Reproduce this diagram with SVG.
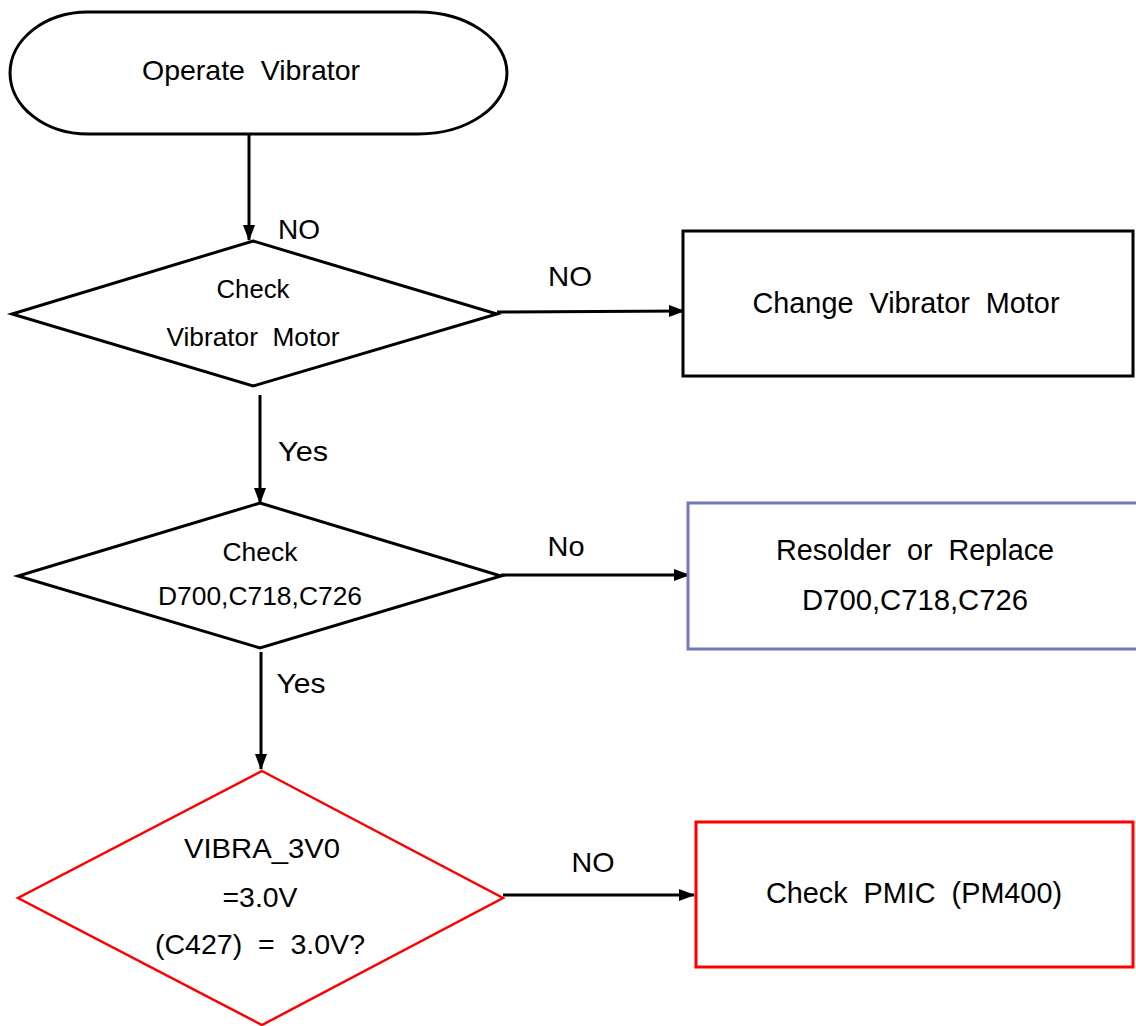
<svg xmlns="http://www.w3.org/2000/svg" width="1136" height="1026" viewBox="0 0 1136 1026">
<style>
text{font-family:"Liberation Sans",Arial,sans-serif;fill:#000;text-anchor:middle}
.blk{fill:#fff;stroke:#000;stroke-width:3}
.red{fill:#fff;stroke:#f00;stroke-width:3}
.reddia{fill:#fff;stroke:#f00;stroke-width:2.5}
.blue{fill:#fff;stroke:#7777bb;stroke-width:3}
.con{fill:none;stroke:#000;stroke-width:3}
.lbl{font-size:28px}
</style>
<defs>
<marker id="ah" markerUnits="userSpaceOnUse" markerWidth="16" markerHeight="14" refX="15" refY="7" orient="auto">
<path d="M0,1 L16,7 L0,13 Z" fill="#000"/>
</marker>
</defs>
<rect width="1136" height="1026" fill="#fff"/>
<g id="connectors">
<line class="con" x1="249" y1="134" x2="249" y2="240" marker-end="url(#ah)"/>
<line class="con" x1="497" y1="312" x2="684" y2="311" marker-end="url(#ah)"/>
<line class="con" x1="260" y1="395" x2="260" y2="503" marker-end="url(#ah)"/>
<line class="con" x1="501" y1="575" x2="689" y2="575" marker-end="url(#ah)"/>
<line class="con" x1="261" y1="652" x2="261" y2="769" marker-end="url(#ah)"/>
<line class="con" x1="503" y1="895" x2="694" y2="895" marker-end="url(#ah)"/>
<text class="lbl" x="299" y="239" textLength="42" lengthAdjust="spacingAndGlyphs">NO</text>
<text class="lbl" x="570" y="286" textLength="44" lengthAdjust="spacingAndGlyphs">NO</text>
<text class="lbl" x="303" y="461" textLength="50" lengthAdjust="spacingAndGlyphs">Yes</text>
<text class="lbl" x="566" y="556" textLength="37" lengthAdjust="spacingAndGlyphs">No</text>
<text class="lbl" x="301" y="693" textLength="49" lengthAdjust="spacingAndGlyphs">Yes</text>
<text class="lbl" x="593" y="872" textLength="43" lengthAdjust="spacingAndGlyphs">NO</text>
</g>
<g id="start">
<path class="blk" d="M88 12 H418 A89 61 0 0 1 418 134 H88 A78 61 0 0 1 88 12 Z"/>
<text x="251" y="80" font-size="28" xml:space="preserve" textLength="218" lengthAdjust="spacingAndGlyphs">Operate  Vibrator</text>
</g>
<g id="check-motor">
<polygon class="blk" points="253,241 497,314 253,386 12,314"/>
<text x="253" y="298" font-size="26" textLength="73" lengthAdjust="spacingAndGlyphs">Check</text>
<text x="253" y="346" font-size="26" xml:space="preserve" textLength="173" lengthAdjust="spacingAndGlyphs">Vibrator  Motor</text>
</g>
<g id="change-motor">
<rect class="blk" x="683" y="231" width="450" height="145"/>
<text x="906" y="313" font-size="29" xml:space="preserve" textLength="307" lengthAdjust="spacingAndGlyphs">Change  Vibrator  Motor</text>
</g>
<g id="check-parts">
<polygon class="blk" points="260,503 501,576 260,648 18,576"/>
<text x="260" y="561" font-size="26" textLength="75" lengthAdjust="spacingAndGlyphs">Check</text>
<text x="260" y="605" font-size="26" textLength="204" lengthAdjust="spacingAndGlyphs">D700,C718,C726</text>
</g>
<g id="resolder">
<rect class="blue" x="688" y="503" width="460" height="146"/>
<text x="915" y="560" font-size="29" xml:space="preserve" textLength="278" lengthAdjust="spacingAndGlyphs">Resolder  or  Replace</text>
<text x="915" y="610" font-size="29" textLength="226" lengthAdjust="spacingAndGlyphs">D700,C718,C726</text>
</g>
<g id="check-vibra">
<polygon class="reddia" points="262,771 503,898 262,1025 18,898"/>
<text x="262" y="858" font-size="28" textLength="156" lengthAdjust="spacingAndGlyphs">VIBRA_3V0</text>
<text x="260" y="907" font-size="28" textLength="75" lengthAdjust="spacingAndGlyphs">=3.0V</text>
<text x="260" y="954" font-size="28" xml:space="preserve" textLength="210" lengthAdjust="spacingAndGlyphs">(C427)  =  3.0V?</text>
</g>
<g id="check-pmic">
<rect class="red" x="696" y="822" width="437" height="145"/>
<text x="914" y="903" font-size="29" xml:space="preserve" textLength="296" lengthAdjust="spacingAndGlyphs">Check  PMIC  (PM400)</text>
</g>
</svg>
